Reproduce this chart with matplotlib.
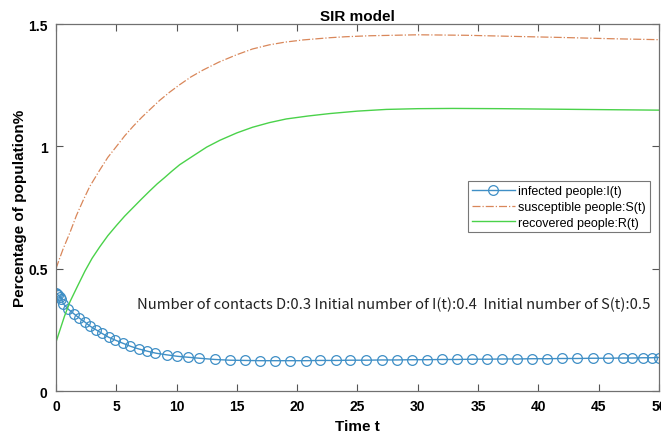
import matplotlib
matplotlib.use('Agg')
import matplotlib.pyplot as plt

# infected people I(t) (solver output points)
t_i = [0, 0.1, 0.2, 0.3, 0.45, 0.6, 1.03, 1.5, 1.94, 2.42, 2.83, 3.33, 3.8, 4.36,
       4.92, 5.56, 6.17, 6.86, 7.56, 8.25, 9.17, 10.06, 10.97, 11.9, 13.17, 14.4,
       15.7, 16.9, 18.2, 19.4, 20.7, 21.9, 23.2, 24.4, 25.7, 27, 28.25, 29.5,
       30.75, 32, 33.25, 34.5, 35.75, 37, 38.25, 39.5, 40.75, 42, 43.25, 44.5,
       45.75, 47.05, 47.8, 48.7, 49.4, 50]
i_vals = [0.40, 0.396, 0.391, 0.386, 0.378, 0.357, 0.334, 0.315, 0.298, 0.281,
          0.265, 0.250, 0.236, 0.220, 0.208, 0.195, 0.183, 0.172, 0.163, 0.155,
          0.148, 0.142, 0.138, 0.134, 0.129, 0.126, 0.125, 0.124, 0.124, 0.124,
          0.124, 0.125, 0.125, 0.126, 0.126, 0.127, 0.127, 0.128, 0.128, 0.129,
          0.129, 0.130, 0.130, 0.131, 0.131, 0.132, 0.132, 0.133, 0.133, 0.134,
          0.134, 0.135, 0.135, 0.136, 0.136, 0.137]

# susceptible people S(t)
t_s = [0, 0.25, 0.6, 1.16, 1.7, 2.26, 2.8, 3.64, 4.3, 5.02, 5.7, 6.4, 7.1, 7.78,
       8.6, 9.44, 10.26, 11.2, 12.2, 13.5, 14.96, 16.3, 17.7, 19, 20.5, 22.7,
       24, 26, 30, 34, 38.4, 42, 46, 50]
s_vals = [0.50, 0.535, 0.582, 0.648, 0.718, 0.780, 0.836, 0.904, 0.955, 1.000,
          1.043, 1.082, 1.118, 1.150, 1.188, 1.222, 1.252, 1.284, 1.312, 1.344,
          1.374, 1.398, 1.415, 1.426, 1.435, 1.444, 1.448, 1.452, 1.456, 1.454,
          1.449, 1.445, 1.440, 1.436]

# recovered people R(t)
t_r = [0, 0.3, 0.7, 1.16, 1.8, 2.4, 3.0, 3.64, 4.3, 5.02, 5.7, 6.4, 7.1, 7.78,
       8.4, 9.0, 9.6, 10.26, 11.5, 12.5, 13.6, 15, 16.3, 17.7, 19.1, 20.9, 22.7,
       25, 27.4, 30, 32.9, 37, 41.2, 45.5, 50]
r_vals = [0.20, 0.245, 0.305, 0.365, 0.430, 0.490, 0.543, 0.590, 0.635, 0.677,
          0.715, 0.750, 0.785, 0.818, 0.847, 0.872, 0.898, 0.925, 0.965, 0.997,
          1.025, 1.055, 1.078, 1.097, 1.112, 1.124, 1.134, 1.144, 1.151, 1.154,
          1.155, 1.154, 1.152, 1.150, 1.148]

x_ticks = [0, 5, 10, 15, 20, 25, 30, 35, 40, 45, 50]
y_ticks = [0, 0.5, 1, 1.5]
y_tick_labels = ['0', '0.5', '1', '1.5']

plt.rcParams['font.family'] = ['Liberation Sans', 'DejaVu Sans']

fig = plt.figure(figsize=(6.61, 4.39), dpi=100)
ax = fig.add_axes([0.0847, 0.107, 0.912, 0.836])

ax.plot(t_i, i_vals, color='#3f8fc6', lw=1.0, marker='o', ms=7,
        mfc='none', mew=0.9, label='infected people:I(t)')
ax.plot(t_s, s_vals, color='#d9875a', lw=0.9, ls='-.',
        label='susceptible people:S(t)')
ax.plot(t_r, r_vals, color='#4ad24a', lw=1.0, label='recovered people:R(t)')

ax.set_xlim(0, 50)
ax.set_ylim(0, 1.5)
ax.set_xticks(x_ticks)
ax.set_yticks(y_ticks)
ax.set_yticklabels(y_tick_labels)
for lab in ax.get_xticklabels() + ax.get_yticklabels():
    lab.set_fontweight('bold')
    lab.set_fontsize(10)
ax.tick_params(direction='in', top=True, right=True, length=5,
               color='#555555', pad=6)
for sp in ax.spines.values():
    sp.set_color('#707070')
    sp.set_linewidth(0.9)

ax.set_title('SIR model', fontsize=11, fontweight='bold', pad=3)
ax.set_xlabel('Time t', fontsize=11, fontweight='bold', labelpad=4)
ax.set_ylabel('Percentage of population%', fontsize=11, fontweight='bold',
              labelpad=1)

leg = ax.legend(loc='upper left', bbox_to_anchor=(0.684, 0.571), fontsize=9,
                frameon=True, fancybox=False, borderpad=0.3, labelspacing=0.3,
                handlelength=3.4, handletextpad=0.3, borderaxespad=0)
leg.get_frame().set_edgecolor('#555555')
leg.get_frame().set_linewidth(0.8)

ax.text(6.7, 0.354, 'Number of contacts D:0.3 Initial number of I(t):0.4  '
        'Initial number of S(t):0.5', fontsize=10.6, va='center',
        family=['Noto Sans CJK SC', 'DejaVu Sans'], color='#222222')

fig.savefig('out.png', dpi=100)
